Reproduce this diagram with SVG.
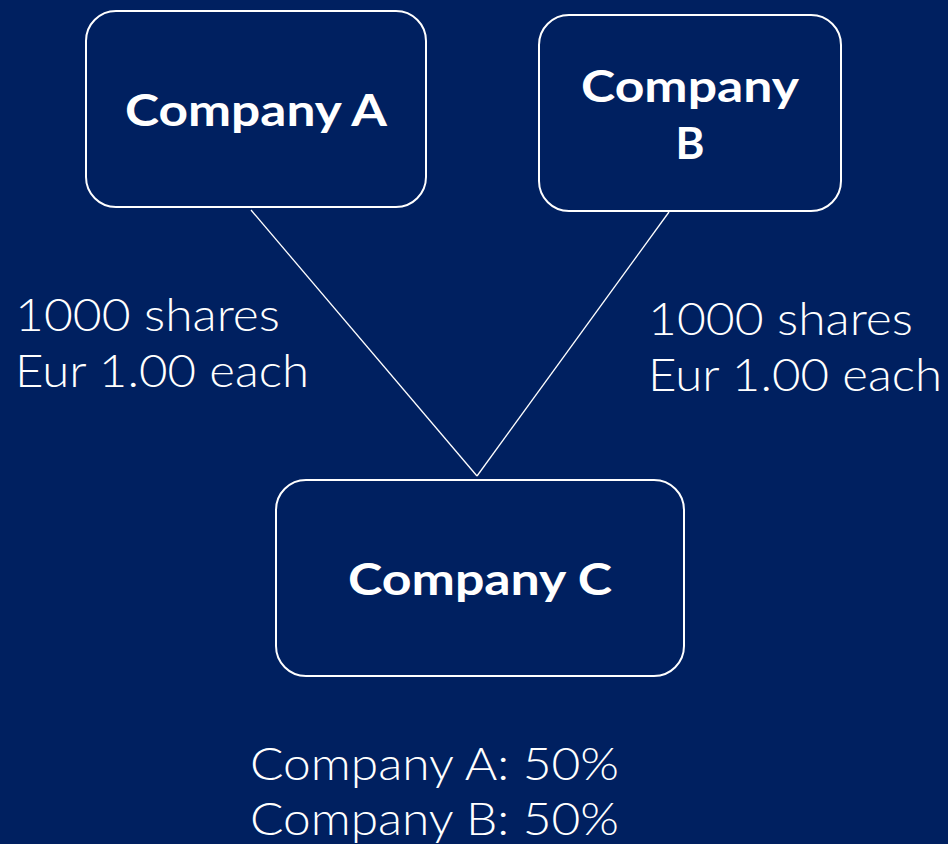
<svg xmlns="http://www.w3.org/2000/svg" width="948" height="844" viewBox="0 0 948 844">
<style>
.box{fill:#002060;stroke:#ffffff;stroke-width:2}
.title{font-family:Lato,"Liberation Sans",sans-serif;font-weight:700;font-size:44px;fill:#ffffff;text-anchor:middle}
.lbl{font-family:Lato,"Liberation Sans",sans-serif;font-weight:300;font-size:46px;fill:#ffffff}
.conn{stroke:#ffffff;stroke-width:1.3;fill:none}
</style>
<rect width="948" height="844" fill="#002060"/>
<g id="connectors">
<line class="conn" x1="251" y1="210" x2="477" y2="476"/>
<line class="conn" x1="669" y1="212" x2="477" y2="476"/>
</g>
<g id="nodeA">
<rect class="box" x="86" y="11" width="340" height="196" rx="30"/>
<text class="title" x="256" y="126" textLength="262" lengthAdjust="spacingAndGlyphs">Company A</text>
</g>
<g id="nodeB">
<rect class="box" x="539" y="15" width="302" height="196" rx="30"/>
<text class="title" x="690" y="102" textLength="218" lengthAdjust="spacingAndGlyphs">Company</text>
<text class="title" x="690" y="159">B</text>
</g>
<g id="nodeC">
<rect class="box" x="276" y="480" width="408" height="196" rx="30"/>
<text class="title" x="480" y="595" textLength="264" lengthAdjust="spacingAndGlyphs">Company C</text>
</g>
<g id="labels">
<text class="lbl" x="15" y="331" textLength="265" lengthAdjust="spacingAndGlyphs">1000 shares</text>
<text class="lbl" x="15" y="387" textLength="294" lengthAdjust="spacingAndGlyphs">Eur 1.00 each</text>
<text class="lbl" x="648" y="335" textLength="265" lengthAdjust="spacingAndGlyphs">1000 shares</text>
<text class="lbl" x="648" y="391" textLength="294" lengthAdjust="spacingAndGlyphs">Eur 1.00 each</text>
<text class="lbl" x="250" y="780" textLength="369" lengthAdjust="spacingAndGlyphs">Company A: 50%</text>
<text class="lbl" x="250" y="835" textLength="369" lengthAdjust="spacingAndGlyphs">Company B: 50%</text>
</g>
</svg>
